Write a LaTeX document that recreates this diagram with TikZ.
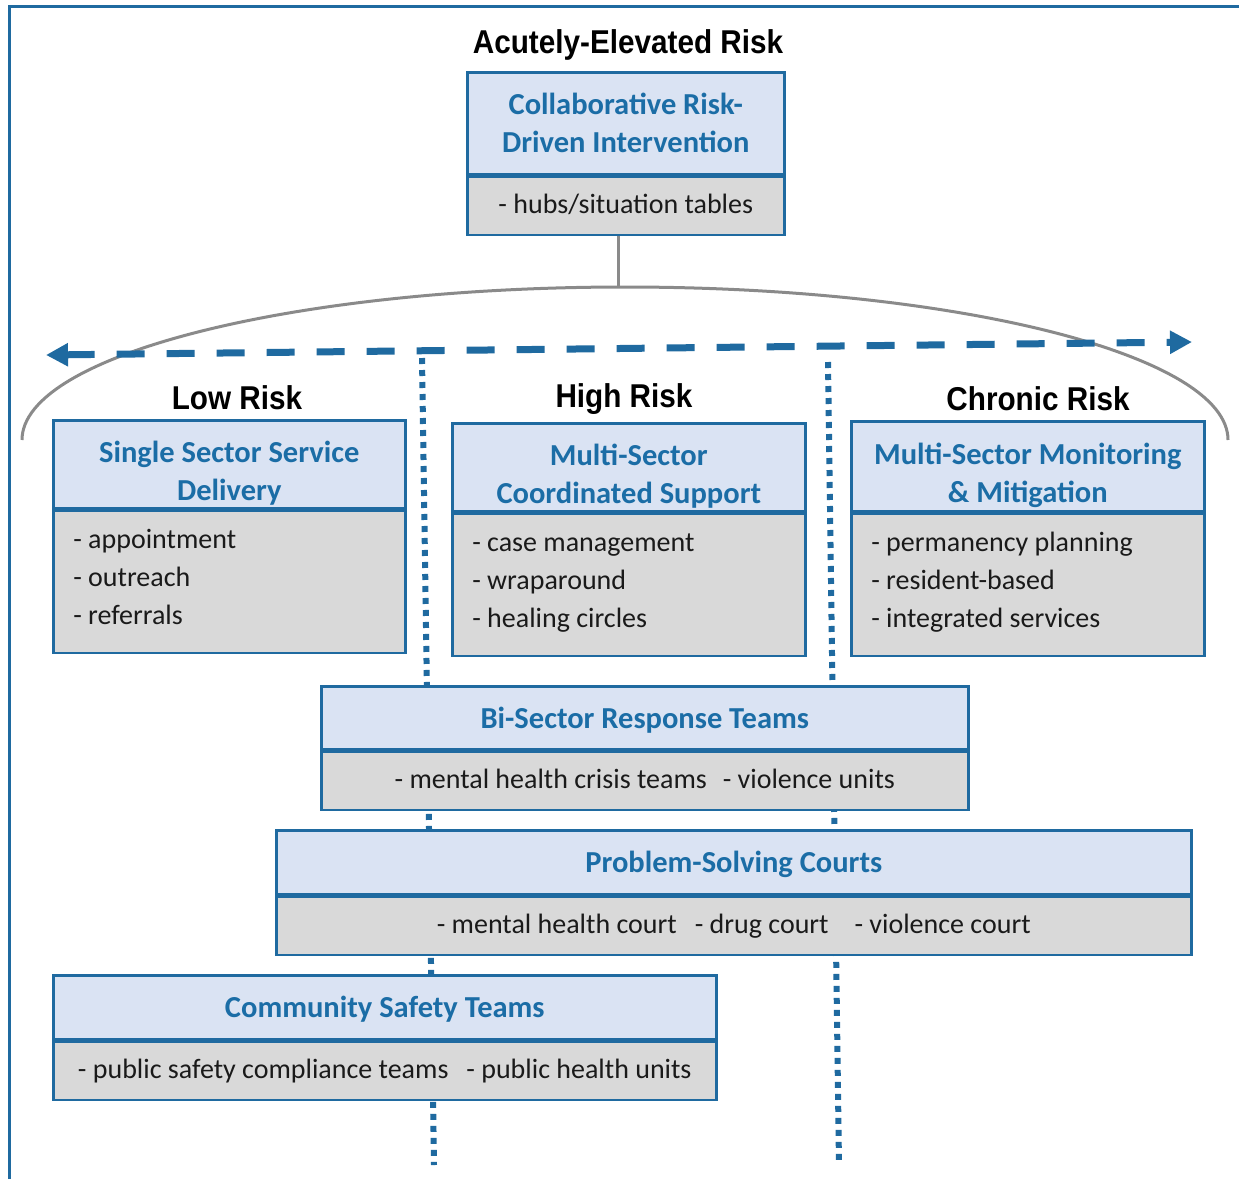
\documentclass[tikz,border=0pt]{standalone}
\usepackage{fontspec}
\setmainfont{Carlito}
\newfontfamily\handfont{Liberation Sans}[FakeStretch=0.9]
\usetikzlibrary{arrows.meta}
\definecolor{edgeblue}{HTML}{1F6AA0}
\definecolor{headblue}{HTML}{1B6DA6}
\definecolor{headfill}{HTML}{DAE3F3}
\definecolor{bodyfill}{HTML}{D9D9D9}
\definecolor{archgray}{HTML}{8A8A8A}
\definecolor{bodyink}{HTML}{1A1A1A}
% struts fixing the height of a first line and the depth of a last line
\newcommand{\toprule}[1]{\rule{0pt}{#1}}
\newcommand{\botrule}[1]{\rule[-#1]{0pt}{#1}}
\begin{document}
\begin{tikzpicture}[x=1pt,y=-1pt,
  headbox/.style={draw=edgeblue, line width=2.6pt, fill=headfill, text=headblue,
    font=\fontsize{30.5}{38}\selectfont\bfseries, align=center, inner sep=0pt, anchor=north west},
  bodybox/.style={draw=edgeblue, line width=2.6pt, fill=bodyfill, text=bodyink,
    font=\fontsize{28}{38}\selectfont, inner sep=0pt, anchor=north west},
  listbox/.style={bodybox, align=flush left, inner xsep=20pt},
  risklabel/.style={font=\handfont\bfseries\fontsize{33}{36}\selectfont, inner sep=0pt},
  framerule/.style={draw=edgeblue, line width=3pt},
  archline/.style={draw=archgray, line width=3pt},
  dasharrow/.style={draw=edgeblue, line width=7pt, dash pattern=on 28pt off 22pt,
    {Triangle[length=22pt,width=22pt]}-{Triangle[length=22pt,width=22pt]}},
  dotline/.style={draw=edgeblue, line width=6pt, dash pattern=on 6pt off 6pt}
]
\useasboundingbox (0,0) rectangle (1239,1179);

% outer frame (top and left rules)
\draw[framerule] (9,1179) -- (9,6) -- (1239,6);

% vertical dotted separators running behind the boxes
\coordinate (lvTop) at (422,358);
\coordinate (lvBot) at (434,1165);
\coordinate (rvTop) at (828,362);
\coordinate (rvBot) at (839,1165);
\draw[dotline] (lvTop) -- (lvBot);
\draw[dotline] (rvTop) -- (rvBot);

% top box: collaborative risk-driven intervention
\node[risklabel] (acute) at (628,45) {Acutely-Elevated Risk};
\node[headbox, minimum width=317, minimum height=102] (crT) at (466,71)
  {Collaborative Risk-\\Driven Intervention};
\node[bodybox, minimum width=317, minimum height=58] (crB) at (crT.south west)
  {- hubs/situation tables\botrule{5pt}};
\draw[edgeblue, line width=4.5pt] (crT.south west) -- (crT.south east);

% arch spanning the three risk levels
\coordinate (archTop) at (618,287);
\draw[archline] (crB.south -| archTop) -- (archTop);
\draw[archline] (22,440) arc[start angle=180, end angle=360, x radius=603, y radius=153];

% risk continuum arrow
\coordinate (arrL) at (46,355);
\coordinate (arrR) at (1192,342);
\draw[dasharrow] (arrL) -- (arrR);

% low risk
\node[risklabel] (lowL) at (237,398) {Low Risk};
\node[headbox, minimum width=352, minimum height=88] (lowT) at (52,419)
  {\toprule{40pt}Single Sector Service\\Delivery};
\node[listbox, text width=312, minimum height=142] (lowB) at (lowT.south west)
  {\toprule{22pt}- appointment\\- outreach\\- referrals\botrule{12pt}};

% high risk
\node[risklabel] (highL) at (624,399) {High Risk};
\node[headbox, minimum width=353, minimum height=88] (highT) at (451,422)
  {\toprule{40pt}Multi-Sector\\Coordinated Support};
\node[listbox, text width=313, minimum height=142] (highB) at (highT.south west)
  {\toprule{22pt}- case management\\- wraparound\\- healing circles\botrule{12pt}};

% chronic risk
\node[risklabel] (chronL) at (1038,399) {Chronic Risk};
\node[headbox, minimum width=353, minimum height=90] (chronT) at (850,420)
  {\toprule{40pt}Multi-Sector Monitoring\\\& Mitigation};
\node[listbox, text width=313, minimum height=142] (chronB) at (chronT.south west)
  {\toprule{22pt}- permanency planning\\- resident-based\\- integrated services\botrule{12pt}};

% bi-sector response teams
\node[headbox, minimum width=647, minimum height=63] (biT) at (320,685)
  {\toprule{26pt}Bi-Sector Response Teams};
\node[bodybox, minimum width=647, minimum height=58] (biB) at (biT.south west)
  {- mental health crisis teams\hspace{16pt}- violence units\botrule{5pt}};

% problem-solving courts
\node[headbox, minimum width=915, minimum height=64] (psT) at (275,829)
  {\toprule{26pt}Problem-Solving Courts};
\node[bodybox, minimum width=915, minimum height=58] (psB) at (psT.south west)
  {- mental health court\hspace{18pt}- drug court\hspace{26pt}- violence court};

% community safety teams
\node[headbox, minimum width=663, minimum height=64] (cstT) at (52,974)
  {\toprule{26pt}Community Safety Teams};
\node[bodybox, minimum width=663, minimum height=58] (cstB) at (cstT.south west)
  {- public safety compliance teams\hspace{18pt}- public health units};
\end{tikzpicture}
\end{document}
